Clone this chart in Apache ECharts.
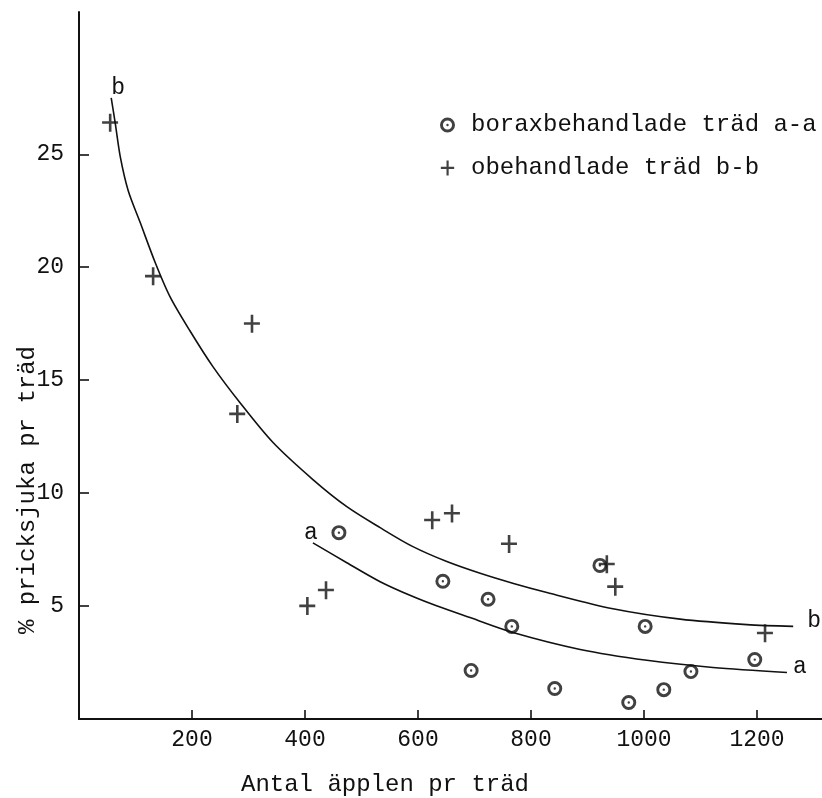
<!DOCTYPE html>
<html>
<head>
<meta charset="utf-8">
<script src="https://cdn.jsdelivr.net/npm/echarts@6/dist/echarts.min.js"></script>
<style>
html,body{margin:0;padding:0;background:#fff;}
#c{width:822px;height:798px;}
</style>
</head>
<body>
<div id="c"></div>
<script>
// ---- data ----
const seriesNames = ['boraxbehandlade träd a-a', 'obehandlade träd b-b'];
const xTicks = [200, 400, 600, 800, 1000, 1200];
const yTicks = [5, 10, 15, 20, 25];
const xTitle = 'Antal äpplen pr träd';
const yTitle = '% pricksjuka pr träd';

// boraxbehandlade (circles)
const boraxPoints = [
  [460, 8.25], [644, 6.1], [724, 5.3], [766, 4.1], [694, 2.15], [842, 1.35],
  [922, 6.8], [1002, 4.1], [973, 0.73], [1035, 1.3], [1083, 2.1], [1196, 2.63]
];
// obehandlade (plus)
const untreatedPoints = [
  [55, 26.4], [131, 19.6], [306, 17.5], [280, 13.5], [404, 5.0], [437, 5.7],
  [625, 8.8], [660, 9.1], [761, 7.75], [934, 6.85], [949, 5.85], [1214, 3.8]
];
// fitted curve a-a (hand drawn in the original)
const curveA = [
  [414, 7.8], [474, 6.92], [533, 6.08], [591, 5.42], [634, 5.0], [692, 4.49],
  [768, 3.83], [887, 3.08], [1005, 2.6], [1122, 2.28], [1253, 2.06]
];
// fitted curve b-b
const curveB = [
  [57, 27.5], [64, 26.4], [73, 24.9], [87, 23.4], [108, 22.0], [135, 20.2],
  [161, 18.7], [196, 17.2], [237, 15.6], [285, 14.0], [343, 12.25], [414, 10.6],
  [474, 9.4], [533, 8.47], [591, 7.63], [651, 6.97], [710, 6.45], [769, 6.0],
  [828, 5.6], [945, 4.88], [1064, 4.42], [1182, 4.18], [1264, 4.1]
];
const curveLabels = ['a', 'b'];

// ---- styles ----
const FONT = 'Liberation Mono';
const INK = '#111';
const ringPath = 'path://M0,10A10,10 0 1,1 20,10A10,10 0 1,1 0,10Z M3.9,10A6.1,6.1 0 1,0 16.1,10A6.1,6.1 0 1,0 3.9,10Z M8.4,10A1.6,1.6 0 1,1 11.6,10A1.6,1.6 0 1,1 8.4,10Z';
const plusPath = 'path://M0,7.5h16v2.6H0z M6.8,0h2.6v18H6.8z';

function curveData(pts, name, startOffset, endDist, endOffset) {
  return pts.map((p, i) => {
    if (i === 0) {
      return { value: p, label: { show: true, position: 'top', distance: 0, offset: startOffset, formatter: name } };
    }
    if (i === pts.length - 1) {
      return { value: p, label: { show: true, position: 'right', distance: endDist, offset: endOffset, formatter: name } };
    }
    return { value: p };
  });
}

const chart = echarts.init(document.getElementById('c'), null, { renderer: 'canvas' });
const lineSeries = (name, pts, so, ed, eo) => ({
  type: 'line',
  name: 'kurva ' + name,
  data: curveData(pts, name, so, ed, eo),
  smooth: 0.3,
  showSymbol: true,
  showAllSymbol: true,
  symbol: 'circle',
  symbolSize: 0,
  lineStyle: { color: INK, width: 1.6 },
  itemStyle: { color: INK },
  label: { fontFamily: FONT, fontSize: 23, color: INK },
  silent: true,
  z: 1
});

chart.setOption({
  animation: false,
  backgroundColor: '#fff',
  grid: { left: 79, right: 0, top: 12, bottom: 79, containLabel: false },
  xAxis: {
    type: 'value',
    min: 0, max: 1315,
    axisLine: { show: true, lineStyle: { color: INK, width: 2 } },
    axisTick: { show: true, inside: true, length: 9, lineStyle: { color: INK, width: 1.6 }, customValues: xTicks },
    axisLabel: { show: true, margin: 9, fontFamily: FONT, fontSize: 23, color: INK, customValues: xTicks,
      formatter: v => String(v) },
    splitLine: { show: false }
  },
  yAxis: {
    type: 'value',
    min: 0, max: 31.3,
    axisLine: { show: true, lineStyle: { color: INK, width: 2 } },
    axisTick: { show: true, inside: true, length: 10, lineStyle: { color: INK, width: 1.6 }, customValues: yTicks },
    axisLabel: { show: true, margin: 15, fontFamily: FONT, fontSize: 23, color: INK, customValues: yTicks,
      formatter: v => String(v) },
    splitLine: { show: false }
  },
  legend: {
    orient: 'vertical',
    left: 435,
    top: 108,
    itemWidth: 15,
    itemHeight: 15,
    itemGap: 19,
    selectedMode: false,
    textStyle: { fontFamily: FONT, fontSize: 24, lineHeight: 24, color: INK, padding: [0, 0, 0, 11] },
    data: [
      { name: seriesNames[0], icon: ringPath, itemStyle: { color: INK } },
      { name: seriesNames[1], icon: plusPath, itemStyle: { color: INK } }
    ]
  },
  graphic: [
    { type: 'text', x: 385, y: 785, silent: true,
      style: { text: xTitle, font: '24px "' + FONT + '"', fill: INK, align: 'center', verticalAlign: 'middle' } },
    { type: 'text', x: 28, y: 490, rotation: Math.PI / 2, silent: true,
      style: { text: yTitle, font: '24px "' + FONT + '"', fill: INK, align: 'center', verticalAlign: 'middle' } }
  ],
  series: [
    lineSeries(curveLabels[0], curveA, [-2, 2], 6, [0, -6]),
    lineSeries(curveLabels[1], curveB, [7, 2], 14, [0, -5]),
    {
      type: 'scatter',
      name: seriesNames[0],
      data: boraxPoints,
      symbol: ringPath,
      symbolSize: 15,
      itemStyle: { color: INK },
      z: 3
    },
    {
      type: 'scatter',
      name: seriesNames[1],
      data: untreatedPoints,
      symbol: plusPath,
      symbolSize: [16, 18],
      itemStyle: { color: INK },
      z: 4
    }
  ]
});
</script>
</body>
</html>
